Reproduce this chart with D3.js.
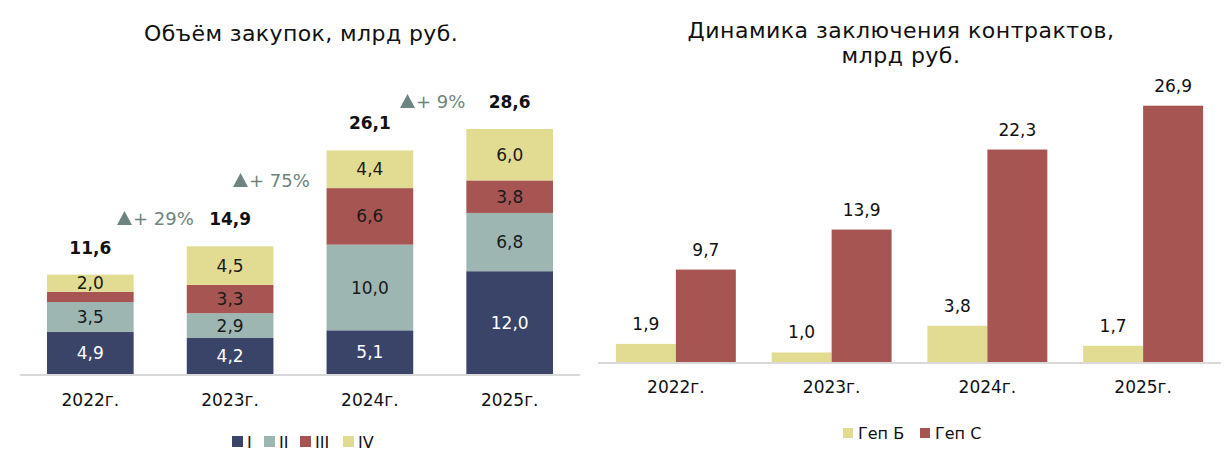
<!DOCTYPE html>
<html><head><meta charset="utf-8">
<script src="https://cdn.jsdelivr.net/npm/d3@7"></script>
<style>
html,body{margin:0;padding:0;background:#fff;}
svg{display:block;font-family:"DejaVu Sans",sans-serif;}
</style></head>
<body>
<svg id="c" width="1230" height="458"></svg>
<script>
// ---- data ----
const years = ["2022г.", "2023г.", "2024г.", "2025г."];
const quarters = ["I", "II", "III", "IV"];
const qI   = [4.9, 4.2, 5.1, 12.0];
const qII  = [3.5, 2.9, 10.0, 6.8];
const qIII = [1.2, 3.3, 6.6, 3.8];
const qIV  = [2.0, 4.5, 4.4, 6.0];
const totals = [11.6, 14.9, 26.1, 28.6];
const growth = ["+ 29%", "+ 75%", "+ 9%"];
const contractSeries = ["Геп Б", "Геп С"];
const gepB = [1.9, 1.0, 3.8, 1.7];
const gepC = [9.7, 13.9, 22.3, 26.9];

const qColors = ["#3a4468", "#9db6b2", "#a65552", "#e2dc93"];
const qText = ["#ffffff", "#1a1a1a", "#1a1a1a", "#1a1a1a"];
const cColors = ["#e2dc93", "#a65552"];
const fmt = v => d3.format(".1f")(v).replace(".", ",");
const ink = "#111";

const svg = d3.select("#c");

// ---------- LEFT: stacked ----------
const L = {x0: 20, x1: 580, base: 374, top: 129};
const rows = years.map((y, i) => ({year: y, I: qI[i], II: qII[i], III: qIII[i], IV: qIV[i]}));
const stack = d3.stack().keys(quarters)(rows);
const xL = d3.scaleBand().domain(years).range([L.x0, L.x1]).paddingInner(0.38).paddingOuter(0.193);
const yL = d3.scaleLinear().domain([0, 28.6]).range([L.base, L.top]);

svg.append("text").attr("x", 301).attr("y", 41).attr("text-anchor", "middle")
  .attr("font-size", 22).attr("letter-spacing", 0.4).attr("fill", ink).text("Объём закупок, млрд руб.");

const gL = svg.append("g");
stack.forEach((layer, k) => {
  gL.selectAll(null).data(layer).enter().append("rect")
    .attr("x", d => xL(d.data.year)).attr("width", xL.bandwidth())
    .attr("y", d => yL(d[1])).attr("height", d => yL(d[0]) - yL(d[1]))
    .attr("fill", qColors[k]);
  gL.selectAll(null).data(layer.filter(d => (d[1] - d[0]) >= 1.5)).enter().append("text")
    .attr("x", d => xL(d.data.year) + xL.bandwidth() / 2)
    .attr("y", d => (yL(d[0]) + yL(d[1])) / 2).attr("dy", "0.36em")
    .attr("text-anchor", "middle").attr("font-size", 17).attr("fill", qText[k])
    .text(d => fmt(d[1] - d[0]));
});
gL.append("line").attr("x1", L.x0).attr("x2", L.x1).attr("y1", L.base + 1).attr("y2", L.base + 1)
  .attr("stroke", "#d9d9d9").attr("stroke-width", 2);
gL.selectAll(null).data(totals).enter().append("text")
  .attr("x", (d, i) => xL(years[i]) + xL.bandwidth() / 2).attr("y", d => yL(d) - 21)
  .attr("text-anchor", "middle").attr("font-size", 17).attr("font-weight", "bold").attr("fill", ink)
  .text(fmt);
gL.selectAll(null).data(years).enter().append("text")
  .attr("x", d => xL(d) + xL.bandwidth() / 2).attr("y", 406)
  .attr("text-anchor", "middle").attr("font-size", 17).attr("fill", ink).text(d => d);

// growth annotations (layout: left edge and vertical centre of each label)
const annPos = [[117, 218], [233, 180], [400, 101]];
growth.forEach((g, i) => {
  const ga = gL.append("g").attr("transform", `translate(${annPos[i][0]},${annPos[i][1]})`);
  ga.append("path").attr("d", "M0,7 L7.5,-7 L15,7 Z").attr("fill", "#6e8480");
  ga.append("text").attr("x", 16).attr("y", 7).attr("font-size", 18).attr("fill", "#6e8480").text(g);
});

// left legend
const legL = svg.append("g").attr("transform", "translate(232,436)");
const lx = [0, 32, 68, 111];
quarters.forEach((q, i) => {
  legL.append("rect").attr("x", lx[i]).attr("y", 0).attr("width", 11).attr("height", 11).attr("fill", qColors[i]);
  legL.append("text").attr("x", lx[i] + 15).attr("y", 11.5).attr("font-size", 16).attr("fill", ink).text(q);
});

// ---------- RIGHT: grouped ----------
const R = {x0: 598, x1: 1221, base: 362, top: 105.7};
const xR = d3.scaleBand().domain(years).range([R.x0, R.x1]).paddingInner(0.23).paddingOuter(0.115);
const xS = d3.scaleBand().domain(contractSeries).range([0, xR.bandwidth()]);
const yR = d3.scaleLinear().domain([0, 26.9]).range([R.base, R.top]);

svg.append("text").attr("x", 901).attr("y", 38).attr("text-anchor", "middle")
  .attr("font-size", 22).attr("letter-spacing", 0.5).attr("fill", ink).text("Динамика заключения контрактов,");
svg.append("text").attr("x", 901).attr("y", 63).attr("text-anchor", "middle")
  .attr("font-size", 22).attr("letter-spacing", 0.5).attr("fill", ink).text("млрд руб.");

const gR = svg.append("g");
const cData = [gepB, gepC];
contractSeries.forEach((s, k) => {
  gR.selectAll(null).data(cData[k]).enter().append("rect")
    .attr("x", (d, i) => xR(years[i]) + xS(s)).attr("width", xS.bandwidth())
    .attr("y", d => yR(d)).attr("height", d => R.base - yR(d)).attr("fill", cColors[k]);
  gR.selectAll(null).data(cData[k]).enter().append("text")
    .attr("x", (d, i) => xR(years[i]) + xS(s) + xS.bandwidth() / 2).attr("y", d => yR(d) - 14)
    .attr("text-anchor", "middle").attr("font-size", 17).attr("fill", ink).text(fmt);
});
gR.append("line").attr("x1", R.x0).attr("x2", R.x1).attr("y1", R.base + 1).attr("y2", R.base + 1)
  .attr("stroke", "#d9d9d9").attr("stroke-width", 2);
gR.selectAll(null).data(years).enter().append("text")
  .attr("x", d => xR(d) + xR.bandwidth() / 2).attr("y", 393)
  .attr("text-anchor", "middle").attr("font-size", 17).attr("fill", ink).text(d => d);

const legR = svg.append("g").attr("transform", "translate(843,428)");
const rx = [0, 77];
contractSeries.forEach((s, i) => {
  legR.append("rect").attr("x", rx[i]).attr("y", 0).attr("width", 10).attr("height", 10).attr("fill", cColors[i]);
  legR.append("text").attr("x", rx[i] + 15).attr("y", 11).attr("font-size", 16).attr("fill", ink).text(s);
});
</script>
</body></html>
